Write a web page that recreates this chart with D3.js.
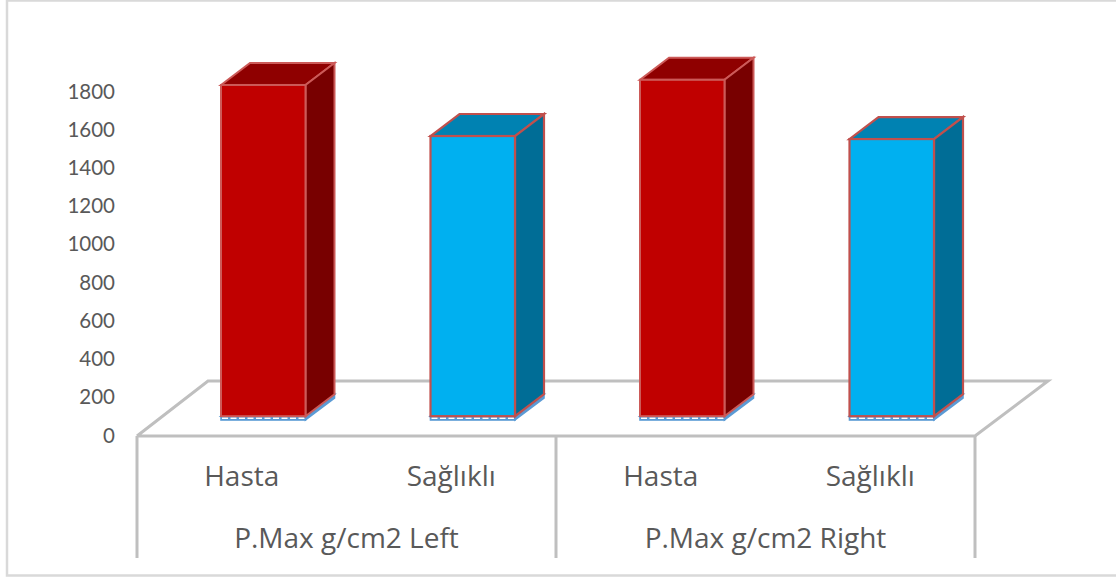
<!DOCTYPE html>
<html>
<head>
<meta charset="utf-8">
<script src="https://cdn.jsdelivr.net/npm/d3@7/dist/d3.min.js"></script>
<style>
html,body{margin:0;padding:0;background:#fff}
svg{display:block}
text{fill:#595959}
</style>
</head>
<body>
<svg id="chart" width="1116" height="577"></svg>
<script>
const groups = ["P.Max g/cm2 Left", "P.Max g/cm2 Right"];
const categories = ["Hasta", "Sağlıklı"];
const baseValues = [20, 20, 20, 20];
const mainValues = [1733, 1466, 1760, 1450];
const tickValues = [0, 200, 400, 600, 800, 1000, 1200, 1400, 1600, 1800];

const svg = d3.select("#chart");

// Projection of the 3D box: front floor edge, depth offset of the floor and of each bar
const floorLeft = 137, floorRight = 975, floorFront = 436, floorBack = 381, floorDx = 72;
const bottom = 558;
const barDx = 29, barDy = -22, barWidth = 84.5, barBase = 420;

const y = d3.scaleLinear().domain([0, 1800]).range([434, 90]);
const valueHeight = v => y(0) - y(v);

const groupX = d3.scaleBand().domain(groups).range([floorLeft, floorRight]);
const catX = d3.scaleBand().domain(categories).range([0, groupX.bandwidth()]);
const slots = groups.flatMap(g => categories.map(c => ({g, c})));

const barX = i => groupX(slots[i].g) + catX(slots[i].c) + catX.bandwidth() / 2 - barWidth / 2 + 21.5;

// Chart frame
svg.append("rect").attr("x", 7).attr("y", 0.5).attr("width", 1125).attr("height", 575)
  .attr("fill", "#fff").attr("stroke", "#d9d9d9").attr("stroke-width", 2.5);

// Floor and category separators
const axisStroke = "#bfbfbf";
const floor = svg.append("g").attr("fill", "none").attr("stroke", axisStroke).attr("stroke-width", 3);
floor.append("path").attr("stroke-linejoin", "miter")
  .attr("d", d3.line()([
    [floorLeft, floorFront], [floorRight, floorFront],
    [floorRight + floorDx + 1, floorBack], [floorLeft + floorDx - 1, floorBack], [floorLeft, floorFront]
  ]));
floor.selectAll("line.sep")
  .data([floorLeft, groupX(groups[1]), floorRight])
  .join("line").attr("class", "sep")
  .attr("x1", d => d).attr("x2", d => d)
  .attr("y1", floorFront).attr("y2", bottom);

// Value axis: labels only
const axis = d3.axisLeft(y).tickValues(tickValues).tickFormat(d3.format("d")).tickSize(0).tickPadding(0);
const axisG = svg.append("g").attr("transform", "translate(115,1.5)").call(axis);
axisG.select(".domain").remove();
axisG.selectAll("text")
  .style("font-family", "Lato, sans-serif").style("font-size", "20.5px").attr("fill", "#595959");

// One box: front, top and right-hand faces
function box(g, x, yTop, yBottom, c) {
  const quad = pts => d3.line()(pts) + "Z";
  g.append("path").attr("d", quad([[x, yTop], [x + barDx, yTop + barDy], [x + barWidth + barDx, yTop + barDy], [x + barWidth, yTop]]))
    .attr("fill", c.top).attr("stroke", c.stroke).attr("stroke-width", c.sw);
  g.append("path").attr("d", quad([[x + barWidth, yTop], [x + barWidth + barDx, yTop + barDy], [x + barWidth + barDx, yBottom + barDy], [x + barWidth, yBottom]]))
    .attr("fill", c.side).attr("stroke", c.stroke).attr("stroke-width", c.sw);
  g.append("rect").attr("x", x).attr("y", yTop).attr("width", barWidth).attr("height", yBottom - yTop)
    .attr("fill", c.front).attr("stroke", c.stroke).attr("stroke-width", c.sw);
}

const palettes = [
  {front: "#c00000", top: "#8f0000", side: "#780000", stroke: "#cc5a58", sw: 2},
  {front: "#00b0f0", top: "#0082b2", side: "#006d96", stroke: "#c0504d", sw: 2.2}
];

const bars = svg.append("g");
slots.forEach((s, i) => {
  const x = barX(i);
  const g = bars.append("g");
  const yBaseTop = barBase - valueHeight(baseValues[i]);
  // Thin blue series at the foot of the stack
  box(g, x, yBaseTop, barBase, {front: "#5b9bd5", top: "#5b9bd5", side: "#5b9bd5", stroke: "#5b9bd5", sw: 1.6});
  g.append("line").attr("x1", x + 1).attr("x2", x + barWidth - 1)
    .attr("y1", barBase - 1.8).attr("y2", barBase - 1.8)
    .attr("stroke", "#fff").attr("stroke-width", 1.4).attr("stroke-dasharray", "6 2.5");
  const yTop = yBaseTop - valueHeight(mainValues[i]);
  box(g, x, yTop, yBaseTop, palettes[categories.indexOf(s.c)]);
});

// Category labels and their groups
const labelFont = "'Open Sans', sans-serif";
svg.append("g").selectAll("text").data(slots).join("text")
  .attr("x", d => groupX(d.g) + catX(d.c) + catX.bandwidth() / 2)
  .attr("y", 486).attr("text-anchor", "middle")
  .style("font-family", labelFont).style("font-size", "28px").text(d => d.c);
svg.append("g").selectAll("text").data(groups).join("text")
  .attr("x", d => groupX(d) + groupX.bandwidth() / 2)
  .attr("y", 548).attr("text-anchor", "middle")
  .style("font-family", labelFont).style("font-size", "28px").text(d => d);
</script>
</body>
</html>
